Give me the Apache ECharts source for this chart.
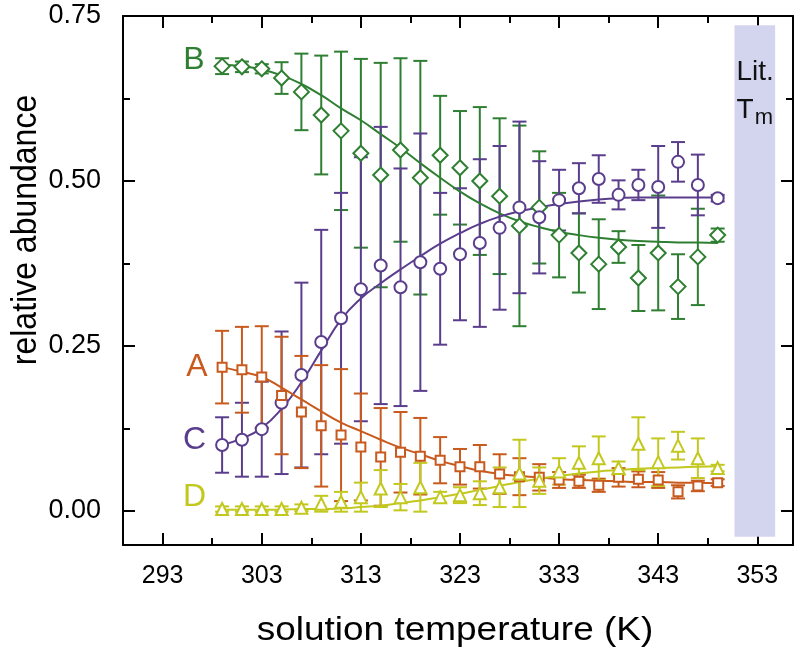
<!DOCTYPE html>
<html><head><meta charset="utf-8">
<script src="https://cdn.jsdelivr.net/npm/echarts@6/dist/echarts.min.js"></script>
<style>html,body{margin:0;padding:0;background:#fff}#c{width:800px;height:656px}</style>
</head><body><div id="c"></div>
<script>
// ---- data ----
const temps = [299,301,303,305,307,309,311,313,315,317,319,321,323,325,327,329,331,333,335,337,339,341,343,345,347,349];
const valsA = [0.218,0.214,0.203,0.175,0.150,0.129,0.115,0.097,0.082,0.089,0.083,0.077,0.067,0.067,0.056,0.052,0.051,0.047,0.045,0.039,0.051,0.048,0.047,0.029,0.038,0.043];
const errA  = [0.055,0.065,0.077,0.089,0.085,0.092,0.100,0.081,0.074,0.061,0.058,0.035,0.027,0.033,0.030,0.028,0.020,0.012,0.010,0.010,0.014,0.012,0.012,0.010,0.008,0.005];
const valsB = [0.674,0.673,0.670,0.656,0.635,0.600,0.576,0.542,0.509,0.547,0.505,0.539,0.520,0.500,0.477,0.432,0.460,0.418,0.391,0.374,0.400,0.353,0.391,0.340,0.385,0.418];
const errB  = [0.012,0.008,0.007,0.024,0.058,0.090,0.120,0.143,0.170,0.139,0.177,0.090,0.086,0.112,0.118,0.152,0.085,0.064,0.060,0.068,0.024,0.050,0.087,0.049,0.073,0.010];
const valsC = [0.100,0.108,0.124,0.164,0.206,0.256,0.292,0.336,0.372,0.339,0.377,0.367,0.389,0.406,0.429,0.460,0.445,0.471,0.489,0.503,0.479,0.494,0.491,0.529,0.494,0.474];
const errC  = [0.042,0.056,0.072,0.108,0.140,0.170,0.190,0.200,0.210,0.180,0.195,0.115,0.100,0.127,0.124,0.130,0.085,0.046,0.038,0.036,0.022,0.023,0.062,0.030,0.046,0.005];
const valsD = [0.003,0.003,0.003,0.003,0.005,0.011,0.014,0.021,0.034,0.021,0.036,0.021,0.024,0.027,0.036,0.057,0.046,0.060,0.073,0.080,0.065,0.102,0.074,0.099,0.080,0.065];
const errD  = [0.004,0.004,0.004,0.004,0.005,0.012,0.015,0.022,0.028,0.020,0.037,0.008,0.012,0.018,0.030,0.051,0.020,0.020,0.025,0.033,0.010,0.040,0.036,0.021,0.030,0.005];
// fitted curves
const fitA = [0.218,0.211,0.203,0.187,0.169,0.151,0.134,0.121,0.108,0.096,0.086,0.076,0.068,0.061,0.056,0.053,0.051,0.048,0.047,0.046,0.045,0.044,0.044,0.043,0.043,0.042];
const fitB = [0.676,0.674,0.669,0.660,0.647,0.630,0.610,0.592,0.571,0.550,0.527,0.505,0.484,0.466,0.451,0.439,0.430,0.423,0.418,0.414,0.411,0.409,0.408,0.407,0.407,0.406];
const fitC = [0.100,0.110,0.126,0.155,0.195,0.243,0.290,0.322,0.345,0.366,0.386,0.405,0.421,0.435,0.446,0.454,0.460,0.465,0.469,0.472,0.474,0.475,0.475,0.475,0.475,0.475];
const fitD = [0.002,0.002,0.002,0.002,0.003,0.003,0.004,0.006,0.008,0.012,0.016,0.021,0.026,0.032,0.038,0.044,0.049,0.053,0.057,0.060,0.062,0.064,0.065,0.066,0.067,0.068];
// literature Tm band
const bandX = [350.7, 354.8];
const bandY = [-0.039, 0.736];
// ticks
const xMajor = [293,303,313,323,333,343,353];
const xMinor = [298,308,318,328,338,348];
const yMajor = [0, 0.25, 0.5, 0.75];
const yMinor = [0.125, 0.375, 0.625];

const FONT = '"Liberation Sans", Arial, sans-serif';
const colA = '#c85a1e', colB = '#2f7f32', colC = '#5a3d8c', colD = '#c2c81e';
const xMin = 289, xMax = 356.6, yMin = -0.0515, yMax = 0.75;

function xAx(pos, ticks, len, labels, line) {
  return {
    type: 'value', position: pos, min: xMin, max: xMax,
    axisLine: {show: line, onZero: false, lineStyle: {color: '#000', width: 2}},
    axisTick: {show: true, inside: true, length: len, customValues: ticks, lineStyle: {color: '#000', width: 2}},
    axisLabel: labels ? {show: true, customValues: ticks, margin: 19, fontSize: 25, fontFamily: FONT, color: '#000'} : {show: false},
    splitLine: {show: false}
  };
}
function yAx(pos, ticks, len, labels, line) {
  return {
    type: 'value', position: pos, min: yMin, max: yMax,
    axisLine: {show: line, onZero: false, lineStyle: {color: '#000', width: 2}},
    axisTick: {show: true, inside: true, length: len, customValues: ticks, lineStyle: {color: '#000', width: 2}},
    axisLabel: labels ? {show: true, customValues: ticks, margin: 22, fontSize: 27, fontFamily: FONT, color: '#000', formatter: v => v.toFixed(2)} : {show: false},
    splitLine: {show: false}
  };
}

function errSeries(vals, errs, color) {
  return {
    type: 'custom', xAxisIndex: 0, yAxisIndex: 0, z: 3, silent: true,
    data: temps.map((t, i) => [t, vals[i], errs[i]]),
    renderItem: (params, api) => {
      const x = api.value(0), v = api.value(1), e = api.value(2);
      const top = api.coord([x, v + e]);
      const bot = api.coord([x, v - e]);
      const hw = 7;
      const st = {stroke: color, lineWidth: 2};
      return {type: 'group', children: [
        {type: 'line', shape: {x1: top[0], y1: top[1], x2: bot[0], y2: bot[1]}, style: st},
        {type: 'line', shape: {x1: top[0] - hw, y1: top[1], x2: top[0] + hw, y2: top[1]}, style: st},
        {type: 'line', shape: {x1: bot[0] - hw, y1: bot[1], x2: bot[0] + hw, y2: bot[1]}, style: st}
      ]};
    }
  };
}
function ptSeries(vals, color, symbol, size, letter, offset) {
  return {
    type: 'scatter', xAxisIndex: 0, yAxisIndex: 0, z: 5, symbol: symbol, symbolSize: size,
    itemStyle: {color: '#fff', borderColor: color, borderWidth: 2, opacity: 1},
    data: temps.map((t, i) => i === 0 ? {
      value: [t, vals[i]],
      label: {show: true, formatter: letter, position: 'left', distance: 9, offset: offset,
              fontSize: 32, fontFamily: FONT, color: color}
    } : [t, vals[i]]),
    emphasis: {disabled: true}
  };
}
function fitSeries(vals, color) {
  return {
    type: 'line', xAxisIndex: 0, yAxisIndex: 0, z: 4, smooth: true, showSymbol: false, symbol: 'none',
    data: temps.map((t, i) => [t, vals[i]]),
    lineStyle: {color: color, width: 2}, silent: true
  };
}

const chart = echarts.init(document.getElementById('c'), null, {renderer: 'canvas'});
chart.setOption({
  animation: false,
  backgroundColor: '#fff',
  grid: {left: 123, right: 7, top: 16, bottom: 111, containLabel: false},
  xAxis: [
    xAx('bottom', xMajor, 12, true, true),
    xAx('bottom', xMinor, 7, false, false),
    xAx('top', xMajor, 12, false, true),
    xAx('top', xMinor, 7, false, false)
  ],
  yAxis: [
    yAx('left', yMajor, 12, true, true),
    yAx('left', yMinor, 7, false, false),
    yAx('right', yMajor, 12, false, true),
    yAx('right', yMinor, 7, false, false)
  ],
  graphic: [
    {type: 'text', x: 26, y: 230, rotation: Math.PI / 2, scaleY: 1.1,
     style: {text: 'relative abundance', font: '32px ' + FONT, fill: '#000', textAlign: 'center', textVerticalAlign: 'middle'}},
    {type: 'text', x: 455, y: 631, scaleX: 1.12,
     style: {text: 'solution temperature (K)', font: '33px ' + FONT, fill: '#000', textAlign: 'center', textVerticalAlign: 'middle'}}
  ],
  series: [
    {
      type: 'line', xAxisIndex: 0, yAxisIndex: 0, z: 1, silent: true, symbol: 'none',
      data: [[bandX[0], bandY[0]], [bandX[1], bandY[1]]],
      lineStyle: {opacity: 0},
      markArea: {
        silent: true,
        itemStyle: {color: '#d3d4ee'},
        label: {
          show: true, position: 'insideTopLeft', distance: 0, offset: [2, 28],
          formatter: '{n|Lit.}\n{n|T}{s|m}',
          rich: {
            n: {fontSize: 28, fontFamily: FONT, color: '#111', lineHeight: 38},
            s: {fontSize: 22, fontFamily: FONT, color: '#111', lineHeight: 38, verticalAlign: 'bottom', padding: [16, 0, 0, 1]}
          }
        },
        data: [[{xAxis: bandX[0], yAxis: bandY[1]}, {xAxis: bandX[1], yAxis: bandY[0]}]]
      }
    },
    errSeries(valsB, errB, colB),
    errSeries(valsC, errC, colC),
    errSeries(valsA, errA, colA),
    errSeries(valsD, errD, colD),
    fitSeries(fitB, colB),
    fitSeries(fitC, colC),
    fitSeries(fitA, colA),
    fitSeries(fitD, colD),
    ptSeries(valsB, colB, 'diamond', [15, 15], 'B', [0, -6]),
    ptSeries(valsC, colC, 'circle', 12, 'C', [0, -5]),
    ptSeries(valsA, colA, 'rect', 9, 'A', [0, 0]),
    ptSeries(valsD, colD, 'triangle', 12, 'D', [0, -12])
  ]
});
</script>
</body></html>
